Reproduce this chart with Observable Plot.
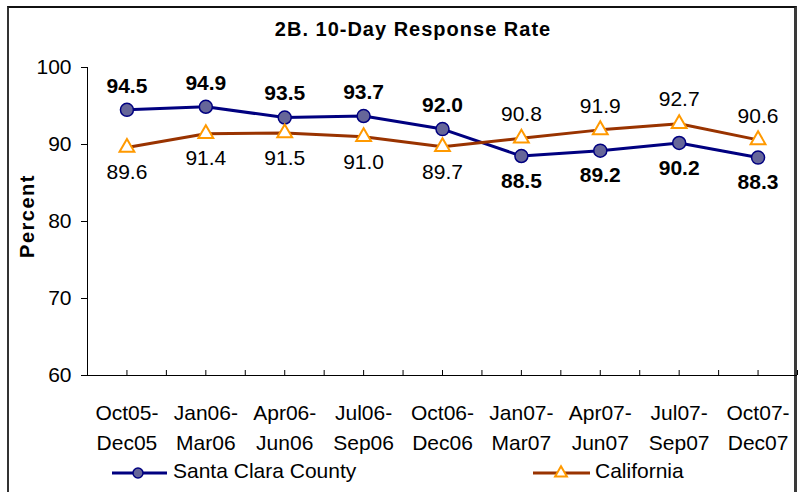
<!DOCTYPE html>
<html>
<head>
<meta charset="utf-8">
<script src="https://cdn.jsdelivr.net/npm/d3@7"></script>
<script src="https://cdn.jsdelivr.net/npm/@observablehq/plot@0.6"></script>
<style>
  body { margin: 0; background: #fff; }
  #wrap { position: relative; width: 798px; height: 492px; overflow: hidden; background: #fff;
          font-family: "Liberation Sans", Arial, sans-serif; color: #000; }
  #frame { position: absolute; left: 7px; top: 6px; width: 785px; height: 520px;
           border-top: 2px solid #111; border-left: 2px solid #333; border-right: 3px solid #3a3a3a; }
  #chart { position: absolute; left: 0; top: 0; }
  #title { position: absolute; left: 413px; top: 19px; transform: translateX(-50%);
           font-size: 20px; line-height: 20px; font-weight: bold; letter-spacing: 1px; white-space: nowrap; }
  #ylabel { position: absolute; left: 26.5px; top: 215.5px; transform: translate(-50%, -50%) rotate(-90deg);
            font-size: 20px; line-height: 20px; font-weight: bold; letter-spacing: 1.5px; white-space: nowrap; }
  #legend { position: absolute; left: 0; top: 455px; }
</style>
</head>
<body>
<div id="wrap">
  <div id="frame"></div>
  <div id="title">2B. 10-Day Response Rate</div>
  <div id="ylabel">Percent</div>
</div>
<script>
// ---- data ----
const periods = [
  "Oct05-\nDec05", "Jan06-\nMar06", "Apr06-\nJun06", "Jul06-\nSep06", "Oct06-\nDec06",
  "Jan07-\nMar07", "Apr07-\nJun07", "Jul07-\nSep07", "Oct07-\nDec07"
];
const santaClara = [94.5, 94.9, 93.5, 93.7, 92.0, 88.5, 89.2, 90.2, 88.3];
const california = [89.6, 91.4, 91.5, 91.0, 89.7, 90.8, 91.9, 92.7, 90.6];
const yTicks = [60, 70, 80, 90, 100];
const seriesNames = ["Santa Clara County", "California"];

// ---- derived tables ----
const idx = periods.map((_, i) => i);
const sc = idx.map(i => ({i, v: santaClara[i], above: santaClara[i] >= california[i]}));
const ca = idx.map(i => ({i, v: california[i], above: california[i] > santaClara[i]}));
const halfTicks = d3.range(-0.5, periods.length, 0.5);

const navy = "#000080", scFill = "#666699", brown = "#993300", orange = "#FF9900";
const fmt = d => d.v.toFixed(1);

const chart = Plot.plot({
  width: 798,
  height: 492,
  marginLeft: 87,
  marginRight: 1,
  marginTop: 67,
  marginBottom: 117,
  x: {type: "linear", domain: [-0.5, periods.length - 0.5]},
  y: {domain: [60, 100]},
  style: {fontFamily: '"Liberation Sans", Arial, sans-serif', fontSize: "21px", color: "#000",
          background: "transparent", overflow: "visible"},
  marks: [
    Plot.ruleX([-0.5], {stroke: "#000", strokeWidth: 1}),
    Plot.ruleY([60], {stroke: "#000", strokeWidth: 1}),
    Plot.axisY(yTicks, {tickSize: 6, tickPadding: 10, label: null, stroke: "#000"}),
    Plot.axisX(halfTicks, {tickSize: 5, dy: -5, tickFormat: () => "", label: null, stroke: "#000"}),
    Plot.axisX(idx, {tickSize: 0, tickPadding: 23, tickFormat: i => periods[i], lineHeight: 1.43, label: null}),
    Plot.line(sc, {x: "i", y: "v", stroke: navy, strokeWidth: 3}),
    Plot.dot(sc, {x: "i", y: "v", r: 6.5, fill: scFill, stroke: navy, strokeWidth: 1.5}),
    Plot.line(ca, {x: "i", y: "v", stroke: brown, strokeWidth: 3}),
    Plot.dot(ca, {x: "i", y: "v", symbol: "triangle", r: 5.5, fill: "#fff", stroke: orange, strokeWidth: 2}),
    Plot.text(sc.filter(d => d.above), {x: "i", y: "v", text: fmt, dy: -24, fontWeight: "bold", lineAnchor: "middle"}),
    Plot.text(sc.filter(d => !d.above), {x: "i", y: "v", text: fmt, dy: 25, fontWeight: "bold", lineAnchor: "middle"}),
    Plot.text(ca.filter(d => d.above), {x: "i", y: "v", text: fmt, dy: -24, lineAnchor: "middle"}),
    Plot.text(ca.filter(d => !d.above), {x: "i", y: "v", text: fmt, dy: 25, lineAnchor: "middle"})
  ]
});
chart.id = "chart";
document.getElementById("wrap").appendChild(chart);

// ---- legend ----
const leg = d3.select("#wrap").append("svg").attr("id", "legend")
  .attr("width", 798).attr("height", 37)
  .style("font-family", '"Liberation Sans", Arial, sans-serif').style("font-size", "21px");
const ly = 18;
// Santa Clara
leg.append("line").attr("x1", 112).attr("x2", 167).attr("y1", ly).attr("y2", ly)
  .attr("stroke", navy).attr("stroke-width", 3);
leg.append("circle").attr("cx", 138).attr("cy", ly).attr("r", 5)
  .attr("fill", scFill).attr("stroke", navy).attr("stroke-width", 1.5);
leg.append("text").attr("x", 173).attr("y", 23).text(seriesNames[0]);
// California
leg.append("line").attr("x1", 533).attr("x2", 590).attr("y1", ly).attr("y2", ly)
  .attr("stroke", brown).attr("stroke-width", 3);
leg.append("path").attr("transform", `translate(561,${ly})`)
  .attr("d", d3.symbol(d3.symbolTriangle, 60)())
  .attr("fill", "#fff").attr("stroke", orange).attr("stroke-width", 2);
leg.append("text").attr("x", 595).attr("y", 23).text(seriesNames[1]);
</script>
</body>
</html>
